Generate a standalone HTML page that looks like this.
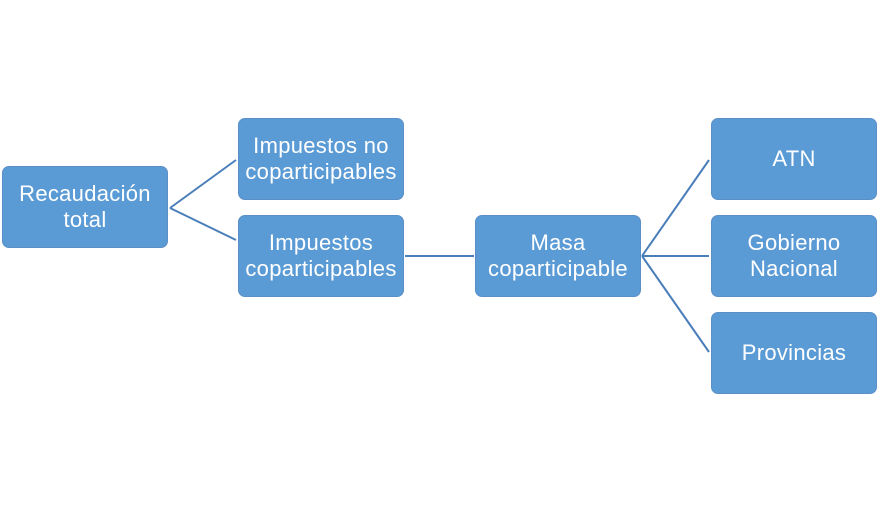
<!DOCTYPE html>
<html><head><meta charset="utf-8"><style>
body{margin:0;width:880px;height:512px;background:#fff;position:relative;overflow:hidden;font-family:"Liberation Sans",sans-serif}
.b{position:absolute;width:164px;height:80px;background:#5b9bd5;border:1px solid #5a8fc7;border-radius:7px;color:#fff;font-size:22px;letter-spacing:0.3px;line-height:26px;display:flex;align-items:center;justify-content:center;text-align:center}
svg{position:absolute;left:0;top:0}
</style></head><body>
<svg width="880" height="512"><g stroke="#4a7ebb" stroke-width="2" fill="none">
<path d="M170 208L236 160M170 208L236 240M405 256L474 256M642 256L709 160M642 256L709 256M642 256L709 352"/></g></svg>
<div class="b" style="left:2px;top:166px">Recaudación<br>total</div>
<div class="b" style="left:238px;top:118px">Impuestos no<br>coparticipables</div>
<div class="b" style="left:238px;top:215px">Impuestos<br>coparticipables</div>
<div class="b" style="left:475px;top:215px">Masa<br>coparticipable</div>
<div class="b" style="left:711px;top:118px">ATN</div>
<div class="b" style="left:711px;top:215px">Gobierno<br>Nacional</div>
<div class="b" style="left:711px;top:312px">Provincias</div>
</body></html>
